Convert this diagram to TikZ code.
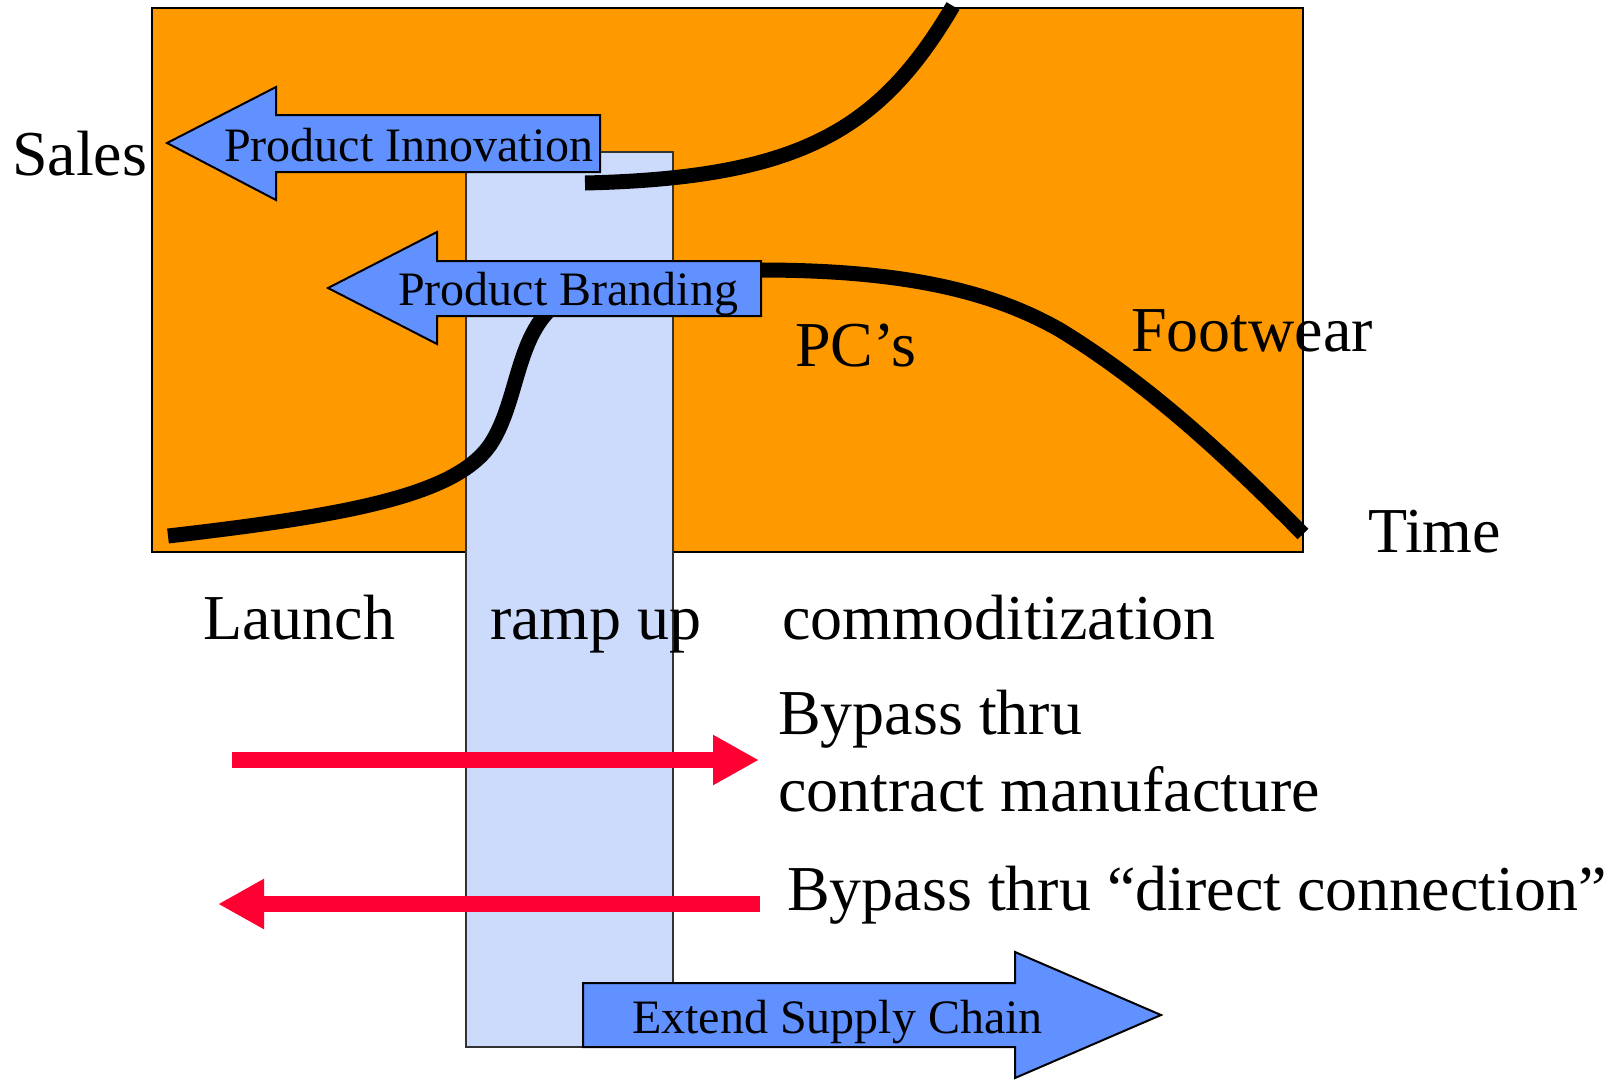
\documentclass[tikz,border=0pt]{standalone}
\usepackage{fontspec}
\setmainfont{Liberation Serif}
\usetikzlibrary{arrows.meta}
\definecolor{plot}{HTML}{FF9900}
\definecolor{phase}{HTML}{CCDBFC}
\definecolor{push}{HTML}{6191FF}
\definecolor{bypass}{HTML}{FF0033}
\tikzset{
  every node/.style={inner sep=0pt,anchor=base west,text=black},
  big/.style={font=\fontsize{64}{72}\selectfont},
  tag/.style={font=\fontsize{48}{56}\selectfont},
  area/.style={draw=black,line width=2pt,fill=plot},
  phasebox/.style={draw=black!80,line width=1.5pt,fill=phase},
  blockarrow/.style={draw=black,line width=2pt,fill=push,line join=miter},
  curve/.style={draw=black,line width=15pt},
  bypassarr/.style={draw=bypass,line width=16pt,-{Triangle[length=46pt,width=47pt]}},
}

\begin{document}
\begin{tikzpicture}[x=1pt,y=-1pt]
\useasboundingbox (0,0) rectangle (1615,1080);

\draw[area] (152,8) rectangle (1303,552);
\draw[phasebox] (466,152) rectangle (673,1047);

\draw[curve] (168,536) .. controls (350,515) and (455,495) .. (490,445)
  .. controls (520,400) and (515,330) .. (562,300)
  .. controls (600,272) and (700,270) .. (760,270)
  .. controls (900,270) and (990,290) .. (1060,330)
  .. controls (1150,385) and (1230,460) .. (1303,534);
\draw[curve] (585,183) .. controls (800,178) and (880,130) .. (953,6);

\draw[blockarrow] (167,143) -- (276,87) -- (276,115) -- (600,115) -- (600,172) -- (276,172) -- (276,200) -- cycle;
\node[tag] (innov) at (224,161) {Product Innovation};
\draw[blockarrow] (328,288) -- (437,232) -- (437,261) -- (761,261) -- (761,316) -- (437,316) -- (437,344) -- cycle;
\node[tag] (brand) at (398,305) {Product Branding};
\draw[blockarrow] (1161,1015) -- (1015,952) -- (1015,983) -- (583,983) -- (583,1047) -- (1015,1047) -- (1015,1078) -- cycle;
\node[tag] (extend) at (632,1033) {Extend Supply Chain};

\node[big] (sales) at (12,175) {Sales};
\node[big] (time) at (1368,552) {Time};
\node[big] (pcs) at (795,366) {PC’s};
\node[big] (foot) at (1131,351) {Footwear};
\node[big] (launch) at (203,639) {Launch};
\node[big] (ramp) at (490,639) {ramp up};
\node[big] (commod) at (782,639) {commoditization};
\node[big] (contract) at (778,734) {Bypass thru};
\node[big] (contract2) at (778,811) {contract manufacture};
\node[big] (direct) at (787,910) {Bypass thru “direct connection”};

\coordinate (cmL) at (232,760);
\coordinate (cmR) at (759,760);
\coordinate (dcR) at (760,904);
\coordinate (dcL) at (218,904);
\draw[bypassarr] (cmL) -- (cmR);
\draw[bypassarr] (dcR) -- (dcL);

\end{tikzpicture}
\end{document}
